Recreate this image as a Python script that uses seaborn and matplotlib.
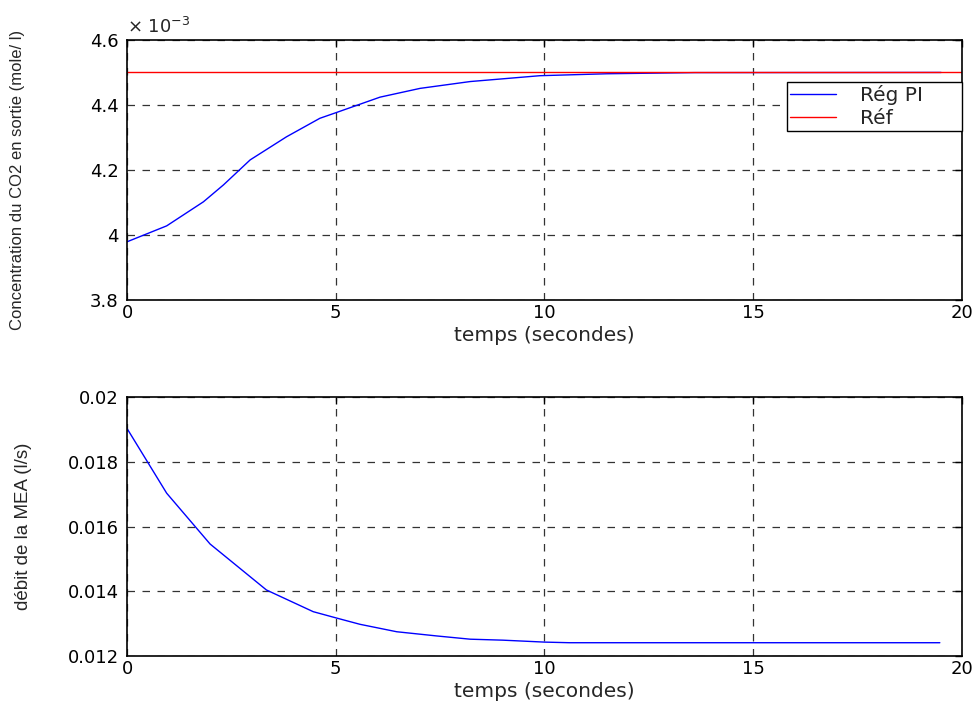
import numpy as np
import pandas as pd
import matplotlib
matplotlib.use("Agg")
import matplotlib.pyplot as plt
import matplotlib.ticker as mticker
import seaborn as sns

# ---- data ----
t_co2 = [0.0, 0.95, 1.83, 2.31, 2.95, 3.82, 4.62, 5.0, 6.06, 7.02, 8.22, 9.89, 11.5, 13.6, 19.5]
co2 = [3.979e-3, 4.028e-3, 4.102e-3, 4.154e-3, 4.231e-3, 4.302e-3, 4.359e-3, 4.376e-3,
       4.424e-3, 4.451e-3, 4.472e-3, 4.490e-3, 4.496e-3, 4.4995e-3, 4.5e-3]
t_ref = [0.0, 20.0]
ref = [4.5e-3, 4.5e-3]

t_mea = [0.0, 0.95, 1.99, 3.34, 4.46, 5.0, 5.58, 6.46, 7.42, 8.22, 9.0, 10.0, 10.6, 19.47]
mea = [0.01903, 0.01703, 0.01546, 0.01404, 0.01337, 0.01318, 0.01298, 0.01275,
       0.01262, 0.01252, 0.01249, 0.01243, 0.012411, 0.012411]

x_ticks = [0, 5, 10, 15, 20]
y1_ticks = [3.8e-3, 4.0e-3, 4.2e-3, 4.4e-3, 4.6e-3]
y2_ticks = [0.012, 0.014, 0.016, 0.018, 0.02]

sns.set_theme(style="white")
plt.rcParams['font.family'] = ['DejaVu Sans']
plt.rcParams['mathtext.fontset'] = 'dejavusans'

LAB = ['Liberation Sans', 'DejaVu Sans']

fig = plt.figure(figsize=(9.8, 7.07), dpi=100)
ax1 = fig.add_axes([0.1296, 0.5757, 0.852, 0.3678])
ax2 = fig.add_axes([0.1296, 0.0721, 0.852, 0.3663])

df1 = pd.DataFrame({"t": t_co2, "v": co2})
dfr = pd.DataFrame({"t": t_ref, "v": ref})
df2 = pd.DataFrame({"t": t_mea, "v": mea})

sns.lineplot(data=df1, x="t", y="v", ax=ax1, color="#0000ff", lw=1.0, label="Rég PI")
sns.lineplot(data=dfr, x="t", y="v", ax=ax1, color="#ff0000", lw=1.0, label="Réf")
sns.lineplot(data=df2, x="t", y="v", ax=ax2, color="#0000ff", lw=1.0, legend=False)

for ax in (ax1, ax2):
    ax.set_xlim(0, 20)
    ax.set_xticks(x_ticks)
    ax.grid(True, linestyle=(0, (6, 6)), color="#333333", lw=0.9)
    ax.tick_params(direction="in", length=5, width=1, labelsize=13, colors="black",
                   top=True, right=True)
    ax.tick_params(axis="y", pad=6)
    ax.tick_params(axis="x", pad=3)
    for s in ax.spines.values():
        s.set_color("black")
        s.set_linewidth(1.2)
    ax.set_xlabel("temps (secondes)", fontsize=14.5, labelpad=3)

ax1.set_ylim(3.8e-3, 4.6e-3)
ax1.set_yticks(y1_ticks)
ax1.yaxis.set_major_formatter(mticker.FuncFormatter(lambda v, p: "%g" % round(v * 1e3, 6)))
ax1.text(0.0, 1.012, "× 10$^{-3}$", transform=ax1.transAxes, fontsize=13,
         ha="left", va="bottom")
ax1.set_ylabel("Concentration du CO2 en sortie (mole/ l)", fontsize=12, family=LAB)
ax1.yaxis.set_label_coords(-0.122, 0.46)

ax2.set_ylim(0.012, 0.02)
ax2.set_yticks(y2_ticks)
ax2.yaxis.set_major_formatter(mticker.FuncFormatter(lambda v, p: "%g" % v))
ax2.set_ylabel("débit de la MEA (l/s)", fontsize=13.5, family=LAB)
ax2.yaxis.set_label_coords(-0.114, 0.5)

leg = ax1.legend(loc="upper right", bbox_to_anchor=(0.79, 0.60, 0.21, 0.238),
                 mode="expand", borderaxespad=0,
                 fontsize=14.5, frameon=True, fancybox=False, handlelength=2.3,
                 borderpad=0.15, labelspacing=0.2, handletextpad=1.2)
leg.get_frame().set_edgecolor("black")
leg.get_frame().set_linewidth(1.0)
leg.get_frame().set_alpha(1.0)

fig.savefig("out.png", dpi=100, facecolor="white")
